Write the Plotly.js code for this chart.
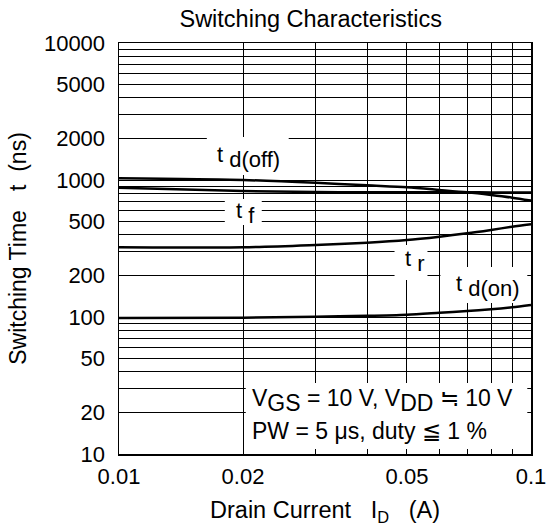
<!DOCTYPE html>
<html>
<head>
<meta charset="utf-8">
<script src="https://cdn.plot.ly/plotly-3.0.1.min.js"></script>
<style>html,body{margin:0;padding:0;background:#fff;}#chart{width:548px;height:526px;}</style>
</head>
<body>
<div id="chart"></div>
<script>
// Drain current (A)
var drainCurrent = [0.01, 0.02, 0.03, 0.04, 0.05, 0.06, 0.07, 0.08, 0.09, 0.1];
// Switching times (ns)
var tdOff = [1029, 1000, 955, 914, 885, 846, 813, 777, 743, 707];
var tF    = [879, 832, 817, 815, 814, 813, 813, 812, 812, 812];
var tR    = [323, 323, 336, 349, 365, 386, 408, 432, 456, 475];
var tdOn  = [98.4, 98.9, 100.5, 102, 104, 107.5, 110.6, 113.8, 117.7, 122.5];

// Labelled ticks
var xTickVals = [0.01, 0.02, 0.05, 0.1];
var xTickText = ['0.01', '0.02', '0.05', '0.1'];
var yTickVals = [10, 20, 50, 100, 200, 500, 1000, 2000, 5000, 10000];
var yTickText = ['10', '20', '50', '100', '200', '500', '1000', '2000', '5000', '10000'];
// Unlabelled grid lines
var xGridVals = [0.03, 0.04, 0.06, 0.07, 0.08, 0.09];
var yGridVals = [30, 40, 60, 70, 80, 90, 300, 400, 600, 700, 800, 900,
                 3000, 4000, 6000, 7000, 8000, 9000];

var FONT = 'Liberation Sans, Arial, Helvetica, sans-serif';
var lineStyle = {color: '#000', width: 2.5, shape: 'spline', smoothing: 0.8};

var traces = [tdOff, tF, tR, tdOn].map(function (ys) {
  return {x: drainCurrent, y: ys, type: 'scatter', mode: 'lines', line: lineStyle,
          hoverinfo: 'skip', showlegend: false};
});

function box(x0, x1, y0, y1) {
  return {type: 'rect', xref: 'paper', yref: 'paper', x0: x0, x1: x1, y0: y0, y1: y1,
          fillcolor: '#fff', line: {width: 0}, layer: 'above'};
}
function label(text, x, y, size) {
  return {text: text, xref: 'paper', yref: 'paper', x: x, y: y, xanchor: 'left', yanchor: 'middle',
          showarrow: false, font: {family: FONT, size: size, color: '#000'}};
}
var sub = function (s, size) { return '<sub><span style="font-size:' + size + 'px">' + s + '</span></sub>'; };

var layout = {
  width: 548, height: 526,
  margin: {l: 119, r: 16.5, t: 43, b: 72},
  paper_bgcolor: '#fff', plot_bgcolor: '#fff',
  font: {family: FONT, size: 22, color: '#000'},
  title: {text: 'Switching Characteristics', x: 0.567, xanchor: 'center', y: 0.964, yanchor: 'middle',
          font: {family: FONT, size: 23.5, color: '#000'}},
  xaxis: {type: 'log', range: [-2, -1], tickvals: xTickVals, ticktext: xTickText, ticks: '',
          showgrid: true, gridcolor: '#000', gridwidth: 1, zeroline: false,
          minor: {tickmode: 'array', tickvals: xGridVals, showgrid: true, gridcolor: '#000', gridwidth: 1, ticks: ''},
          showline: true, linecolor: '#000', linewidth: 1.5, mirror: true,
          tickfont: {family: FONT, size: 22}, ticklabelstandoff: 2,
          title: {text: 'Drain Current\u00A0\u00A0\u00A0I<sub>D</sub>\u00A0\u00A0\u00A0(A)', standoff: 14,
                  font: {family: FONT, size: 23.5}}},
  yaxis: {type: 'log', range: [1, 4], tickvals: yTickVals, ticktext: yTickText, ticks: '',
          showgrid: true, gridcolor: '#000', gridwidth: 1, zeroline: false,
          minor: {tickmode: 'array', tickvals: yGridVals, showgrid: true, gridcolor: '#000', gridwidth: 1, ticks: ''},
          showline: true, linecolor: '#000', linewidth: 1.5, mirror: true,
          tickfont: {family: FONT, size: 22}, ticklabelstandoff: 8,
          title: {text: 'Switching Time\u00A0\u00A0\u00A0t\u00A0\u00A0(ns)', standoff: 11,
                  font: {family: FONT, size: 23}}},
  shapes: [
    box(0.2132, 0.4119, 0.6788, 0.7713),
    box(0.2568, 0.3465, 0.5572, 0.6204),
    box(0.6688, 0.7487, 0.4234, 0.5085),
    box(0.7802, 0.9910, 0.3674, 0.4550),
    box(0.3077, 0.9910, 0.0122, 0.1727)
  ],
  annotations: [
    label('t ' + sub('d(off)', 22), 0.2326, 0.7238, 22),
    label('t ' + sub('f', 22), 0.2787, 0.5864, 22),
    label('t ' + sub('r', 22), 0.6882, 0.4696, 22),
    label('t ' + sub('d(on)', 22), 0.8142, 0.4088, 22),
    label('V' + sub('GS', 23) + ' = 10 V, V' + sub('DD', 23) + ' \u2252 10 V', 0.3174, 0.129, 23),
    label('PW = 5 \u03bcs, duty \u2266 1 %', 0.3174, 0.056, 23)
  ]
};

Plotly.newPlot('chart', traces, layout, {displayModeBar: false, staticPlot: true});
</script>
</body>
</html>
